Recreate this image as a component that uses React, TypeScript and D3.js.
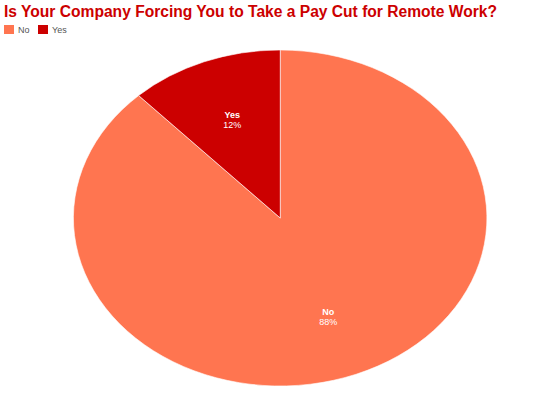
import React from "react";
import * as d3 from "d3";

const categories = ["No", "Yes"];
const values = [88, 12];
const colors = ["#FF7550", "#CC0000"];
const title = "Is Your Company Forcing You to Take a Pay Cut for Remote Work?";

export default function App() {
  const W = 545, H = 396;
  const cx = 280.25, cy = 218, rx = 206.75, ry = 168;
  const data = categories.map((c, i) => ({ c, v: values[i], color: colors[i] }));
  const pie = d3.pie<any>().value((d: any) => d.v).sort(null);
  const arcs = pie(data);
  const arc = d3.arc<any>().innerRadius(0).outerRadius(1);
  const labelArc = d3.arc<any>().innerRadius(0.63).outerRadius(0.63);
  const total = d3.sum(values);
  return (
    <svg width={W} height={H} style={{ position: "absolute", left: 0, top: 0 }} fontFamily="Arial, 'Liberation Sans', sans-serif">
      <rect width={W} height={H} fill="#fff" />
      <text x={4} y={17} fontSize={15.6} fontWeight="bold" fill="#CC0000">{title}</text>
      <g transform="translate(4,25)">
        {data.map((d, i) => (
          <g key={d.c} transform={`translate(${i * 34},0)`}>
            <rect width={10} height={9} fill={d.color} />
            <text x={14} y={8} fontSize={9} fill="#555">{d.c}</text>
          </g>
        ))}
      </g>
      <g transform={`translate(${cx},${cy}) scale(${rx},${ry})`}>
        {arcs.map((a: any) => (
          <path key={a.data.c} d={arc(a) as string} fill={a.data.color} stroke="#fff" strokeWidth={1} vectorEffect="non-scaling-stroke" strokeOpacity={0.6} />
        ))}
      </g>
      {arcs.map((a: any) => {
        const [lx, ly] = labelArc.centroid(a);
        const x = cx + lx * rx, y = cy + ly * ry;
        return (
          <text key={a.data.c} x={x} y={y} textAnchor="middle" fontSize={9} fill="#fff">
            <tspan x={x} dy={-1.5} fontWeight="bold">{a.data.c}</tspan>
            <tspan x={x} dy={10}>{Math.round((a.data.v / total) * 100)}%</tspan>
          </text>
        );
      })}
    </svg>
  );
}
